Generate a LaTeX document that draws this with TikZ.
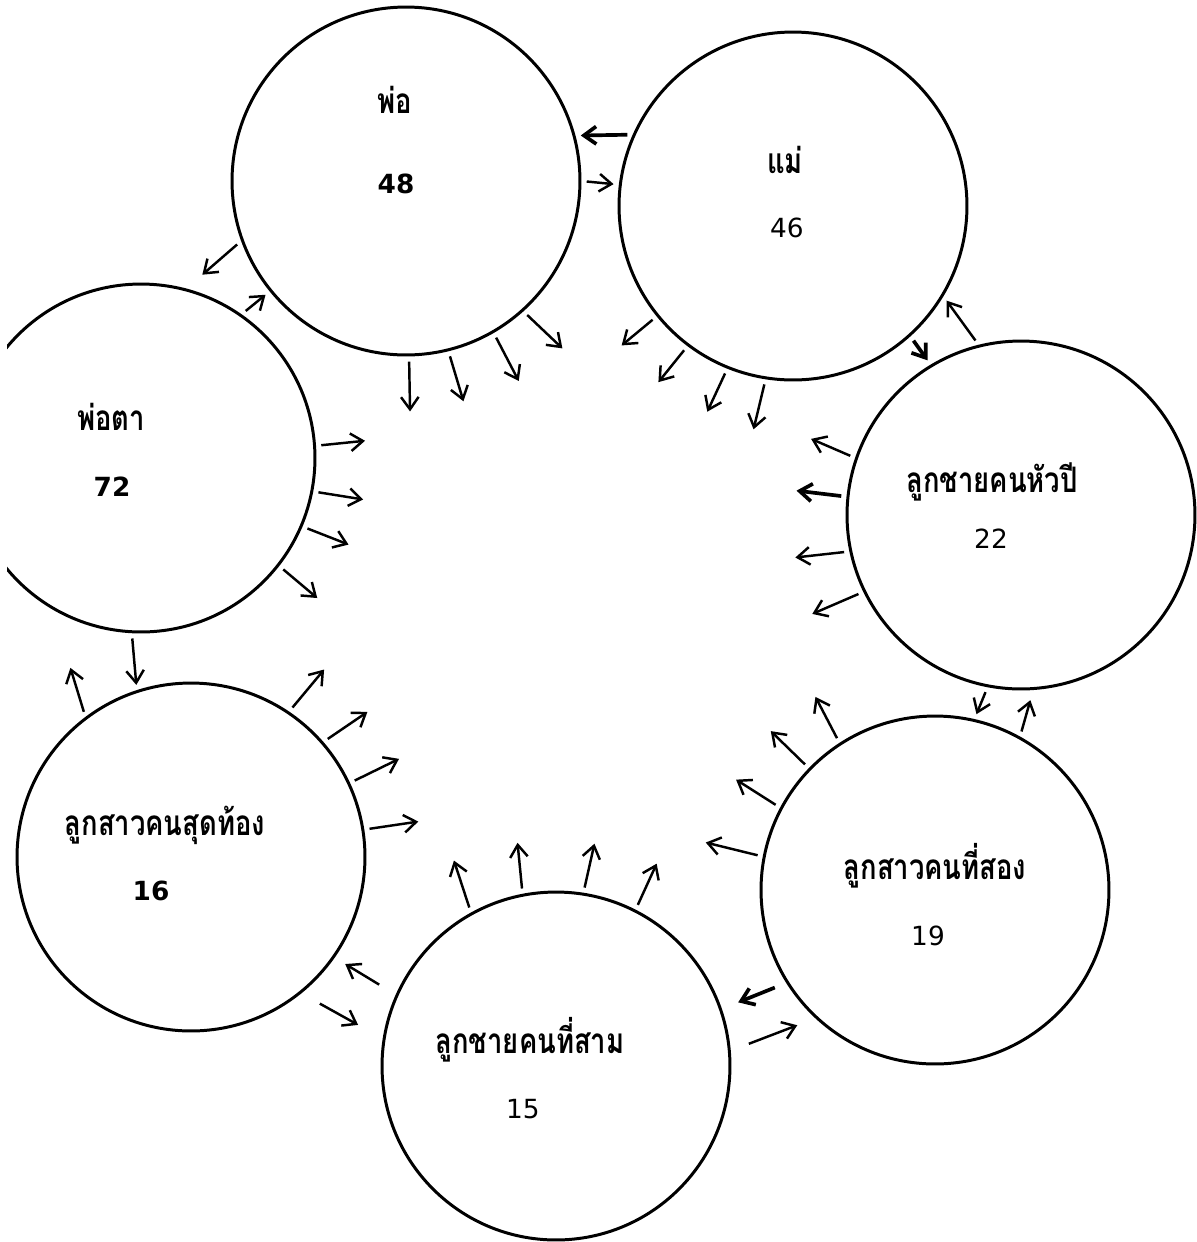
\documentclass[tikz,border=0pt]{standalone}
\usepackage{fontspec}
\usepackage{tikz}
\usetikzlibrary{arrows.meta}
\newfontfamily\thaifont[Script=Thai,FakeStretch=0.78]{Loma}
\newfontfamily\numfont{DejaVu Sans}

\tikzset{
  person/.style={circle,draw,line width=1.7pt,inner sep=0pt,minimum size=6.96cm},
  thname/.style={anchor=base,font=\thaifont\bfseries\fontsize{20}{22}\selectfont},
  age/.style={anchor=base,font=\numfont\fontsize{15}{18}\selectfont},
  agebold/.style={anchor=base,font=\numfont\bfseries\fontsize{15}{18}\selectfont},
  arr/.style={line width=1.4pt,-{Straight Barb[length=7pt,width=10pt]},shorten <=3pt},
  link/.style={arr,shorten >=3pt},
  heavy/.style={line width=2.1pt}
}

\begin{document}
\begin{tikzpicture}[x=0.02cm,y=-0.02cm]
    \useasboundingbox (0,0) rectangle (1197,1242);
    \clip (7,0) rectangle (1197,1242);
    % family circles
    \node[person] (pho) at (406,181) {};
    \node[person] (mae) at (793,206) {};
    \node[person] (phota) at (141,458) {};
    \node[person] (huapi) at (1021,515) {};
    \node[person] (song) at (935,890) {};
    \node[person] (sam) at (556,1066) {};
    \node[person] (sudthong) at (191,857) {};
    % names and ages
    \node[thname] (phoname) at (395,113) {พ่อ};
    \node[agebold] (phoage) at (396,193) {48};
    \node[thname] (maename) at (785,173) {แม่};
    \node[age] (maeage) at (787,237) {46};
    \node[thname] (photaname) at (111,430) {พ่อตา};
    \node[agebold] (photaage) at (112,496) {72};
    \node[thname] (huapiname) at (992,492) {ลูกชายคนหัวปี};
    \node[age] (huapiage) at (991,548) {22};
    \node[thname] (songname) at (935,879) {ลูกสาวคนที่สอง};
    \node[age] (songage) at (928,945) {19};
    \node[thname] (samname) at (530,1053) {ลูกชายคนที่สาม};
    \node[age] (samage) at (523,1118) {15};
    \node[thname] (sudthongname) at (165,835) {ลูกสาวคนสุดท้อง};
    \node[agebold] (sudthongage) at (151,900) {16};
    % arrows between neighbours
    \draw[link,heavy] (mae.156) -- (pho.15);
    \draw[link] (pho.0) -- (mae.173);
    \draw[link,shorten >=12pt] (pho.-160) -- (phota.75);
    \draw[link] (phota.55) -- (pho.-141);
    \draw[link,heavy] (mae.-48) -- (huapi.121);
    \draw[link] (huapi.104) -- (mae.-31);
    \draw[link] (huapi.-101) -- (song.77);
    \draw[link,shorten >=6pt] (song.61) -- (huapi.-86);
    \draw[link,heavy,shorten <=7pt,shorten >=10pt] (song.-148) -- (sam.19);
    \draw[link,shorten <=11pt,shorten >=11pt] (sam.5) -- (song.-133);
    \draw[link,shorten <=11pt,shorten >=7pt] (sam.156) -- (sudthong.-35);
    \draw[link,shorten <=12pt,shorten >=16pt] (sudthong.-51) -- (sam.171);
    \draw[link] (phota.-93) -- (sudthong.108);
    \draw[arr] (sudthong.127) -- ++(-15,-49);
    % arrows towards the middle
    \draw[arr] (pho.-89) -- ++(1,55);
    \draw[arr] (pho.-76) -- ++(15,50);
    \draw[arr] (pho.-60) -- ++(25,48);
    \draw[arr] (pho.-48) -- ++(39,37);
    \draw[arr] (mae.-141) -- ++(-35,29);
    \draw[arr] (mae.-127) -- ++(-29,36);
    \draw[arr] (mae.-112) -- ++(-20,43);
    \draw[arr] (mae.-99) -- ++(-12,50);
    \draw[arr] (huapi.161) -- ++(-44,-19);
    \draw[arr,heavy] (huapi.174) -- ++(-50,-6);
    \draw[arr] (huapi.-168) -- ++(-54,6);
    \draw[arr] (huapi.-154) -- ++(-51,22);
    \draw[arr] (song.123) -- ++(-24,-46);
    \draw[arr] (song.136) -- ++(-38,-37);
    \draw[arr] (song.152) -- ++(-44,-28);
    \draw[arr] (song.169) -- ++(-57,-14);
    \draw[arr] (sam.119) -- ++(-17,-52);
    \draw[arr] (sam.101) -- ++(-5,-51);
    \draw[arr] (sam.81) -- ++(11,-49);
    \draw[arr] (sam.63) -- ++(21,-46);
    \draw[arr] (sudthong.56) -- ++(35,-42);
    \draw[arr] (sudthong.41) -- ++(44,-30);
    \draw[arr] (sudthong.25) -- ++(49,-24);
    \draw[arr] (sudthong.9) -- ++(54,-8);
    \draw[arr] (phota.4) -- ++(49,-5);
    \draw[arr] (phota.-11) -- ++(50,8);
    \draw[arr] (phota.-23) -- ++(46,18);
    \draw[arr] (phota.-38) -- ++(38,32);
\end{tikzpicture}
\end{document}
